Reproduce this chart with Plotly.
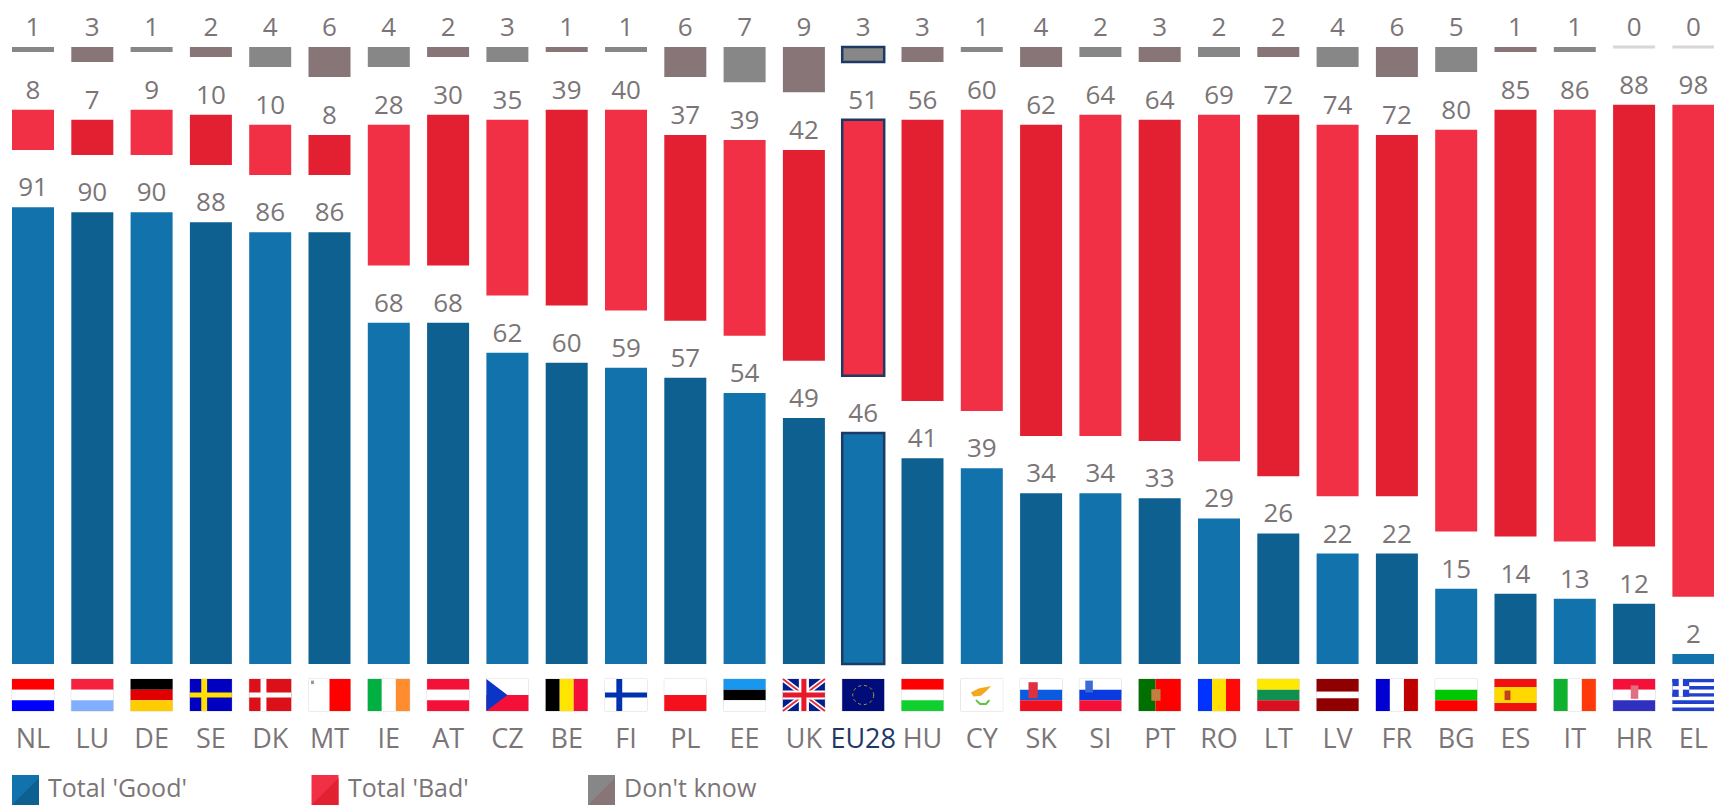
import plotly.graph_objects as go

countries = ["NL","LU","DE","SE","DK","MT","IE","AT","CZ","BE","FI","PL","EE","UK","EU28","HU","CY","SK","SI","PT","RO","LT","LV","FR","BG","ES","IT","HR","EL"]
good = [91,90,90,88,86,86,68,68,62,60,59,57,54,49,46,41,39,34,34,33,29,26,22,22,15,14,13,12,2]
bad = [8,7,9,10,10,8,28,30,35,39,40,37,39,42,51,56,60,62,64,64,69,72,74,72,80,85,86,88,98]
dont_know = [1,3,1,2,4,6,4,2,3,1,1,6,7,9,3,3,1,4,2,3,2,2,4,6,5,1,1,0,0]
legend_labels = ["Total 'Good'", "Total 'Bad'", "Don't know"]

W, H = 1714, 805
STEP = 59.3
X0 = 33
Y_ZERO = 664
UNIT = 5.02
BAR = 42 / STEP
GAP = 11.4
TOP = (Y_ZERO - 47) / UNIT
NAVY = "#1D3A66"
TXT = "#7B7577"
FONT = "Open Sans, Noto Sans, sans-serif"

n = len(countries)
EU = countries.index("EU28")
xs = list(range(n))

def alt(a, b):
    return [a if i % 2 == 0 else b for i in range(n)]

def outline(default, width0=0):
    cols = [default] * n
    widths = [width0] * n
    cols[EU] = NAVY
    widths[EU] = 2.5
    return cols, widths

fig = go.Figure()
lc, lw = outline("rgba(0,0,0,0)")
bar_common = dict(x=xs, width=BAR, textposition="outside", cliponaxis=False,
                  textfont=dict(family=FONT, size=26, color=TXT), constraintext="none",
                  hoverinfo="skip", showlegend=False)
fig.add_bar(y=good, base=0, text=[str(v) for v in good],
            marker=dict(color=alt("#1272AB", "#0D6090"), line=dict(color=lc, width=lw)), **bar_common)
fig.add_bar(y=bad, base=[g + GAP for g in good], text=[str(v) for v in bad],
            marker=dict(color=alt("#F23045", "#E31F32"), line=dict(color=lc, width=lw)), **bar_common)
glc, glw = outline("rgba(0,0,0,0)")
for i, v in enumerate(dont_know):
    if v == 0:
        glc[i], glw[i] = "#D8D6D6", 3
fig.add_bar(y=dont_know, base=[TOP - v for v in dont_know], text=[str(v) for v in dont_know],
            marker=dict(color=alt("#878787", "#877577"), line=dict(color=glc, width=glw)), **bar_common)

# ---- flags, drawn in unit squares (u from left, v from top) ----
def H3(a, b, c):
    return [(0, 0, 1, 1/3, a), (0, 1/3, 1, 2/3, b), (0, 2/3, 1, 1, c)]
def V3(a, b, c):
    return [(0, 0, 1/3, 1, a), (1/3, 0, 2/3, 1, b), (2/3, 0, 1, 1, c)]
def CROSS(bg, fg):
    return [(0, 0, 1, 1, bg), (0.27, 0, 0.41, 1, fg), (0, 0.42, 1, 0.58, fg)]

R = "#FF0000"; WH = "#FFFFFF"
flags = {
    "NL": H3(R, WH, "#0000FF"),
    "LU": H3("#F5213F", WH, "#82AEFF"),
    "DE": H3("#000000", "#E00000", "#FFCC00"),
    "SE": CROSS("#0000C0", "#FFE000"),
    "DK": CROSS("#DC1018", WH),
    "MT": [(0, 0, .5, 1, WH), (.5, 0, 1, 1, R), (.06, .05, .13, .16, "#999999")],
    "IE": V3("#00B040", WH, "#FF8C2E"),
    "AT": H3("#F5103A", WH, "#F5103A"),
    "CZ": [(0, 0, 1, .5, WH), (0, .5, 1, 1, "#F5103A")],
    "BE": V3("#000000", "#FFE500", "#F5103A"),
    "FI": CROSS(WH, "#0032B0"),
    "PL": [(0, 0, 1, .5, WH), (0, .5, 1, 1, "#F5101E")],
    "EE": H3("#1797F0", "#000000", WH),
    "UK": [(0, 0, 1, 1, "#001F8F")],
    "EU28": [(0, 0, 1, 1, "#000C7A")],
    "HU": H3(R, WH, "#10D030"),
    "CY": [(0, 0, 1, 1, WH)],
    "SK": H3(WH, "#0A5BE0", "#F01020") + [(.2, .1, .42, .6, "#E03040")],
    "SI": H3(WH, "#0A3BDF", "#F5103A") + [(.14, .05, .32, .42, "#3A6AD8")],
    "PT": [(0, 0, .4, 1, "#007000"), (.4, 0, 1, 1, R), (.3, .32, .52, .68, "#C08040")],
    "RO": V3("#0033FF", "#FFE000", "#FF0A0A"),
    "LT": H3("#FFE900", "#109050", "#D81020"),
    "LV": [(0, 0, 1, .4, "#900000"), (0, .4, 1, .6, WH), (0, .6, 1, 1, "#900000")],
    "FR": V3("#0000D0", WH, "#C00000"),
    "BG": H3(WH, "#00C800", R),
    "ES": [(0, 0, 1, .25, "#F01010"), (0, .25, 1, .75, "#FFD800"), (0, .75, 1, 1, "#F01010"), (.24, .36, .38, .66, "#C04020")],
    "IT": V3("#10B030", WH, "#FF3A0A"),
    "HR": H3("#F5103A", WH, "#3030C0") + [(.42, .2, .6, .62, "#E07080")],
    "EL": [(0, i / 9, 1, (i + 1) / 9, "#2040D0" if i % 2 == 0 else WH) for i in range(9)]
          + [(0, 0, .4, 5 / 9, "#2040D0"), (.15, 0, .25, 5 / 9, WH), (0, 2 / 9, .4, 3 / 9, WH)],
}

FLAG_TOP = 679
FLAG_H = 32
shapes = []

def fx(i, u):
    return i - BAR / 2 + u * BAR
def fy(v):
    return (Y_ZERO - (FLAG_TOP + v * FLAG_H)) / UNIT
def add_rect(i, u0, v0, u1, v1, color, line=None):
    shapes.append(dict(type="rect", xref="x", yref="y", x0=fx(i, u0), x1=fx(i, u1), y0=fy(v0), y1=fy(v1),
                       fillcolor=color, line=dict(width=1 if line else 0, color=line or color), layer="above"))
def add_path(i, pts, color=None, line=None, width=1):
    d = "M" + " L".join(f"{fx(i, u):.4f},{fy(v):.4f}" for u, v in pts)
    if color:
        d += " Z"
    shapes.append(dict(type="path", xref="x", yref="y", path=d, fillcolor=color or "rgba(0,0,0,0)",
                       line=dict(width=width, color=line or "rgba(0,0,0,0)"), layer="above"))

for i, c in enumerate(countries):
    add_rect(i, 0, 0, 1, 1, WH, "#DDD8D8")
    for u0, v0, u1, v1, col in flags[c]:
        add_rect(i, u0, v0, u1, v1, col)
    if c == "CZ":
        add_path(i, [(0, 0), (.5, .5), (0, 1)], "#0B35C4")
    if c == "UK":
        add_path(i, [(0, 0), (1, 1)], line=WH, width=5)
        add_path(i, [(1, 0), (0, 1)], line=WH, width=5)
        add_path(i, [(0, 0), (1, 1)], line="#E03040", width=2)
        add_path(i, [(1, 0), (0, 1)], line="#E03040", width=2)
        add_rect(i, .38, 0, .62, 1, WH)
        add_rect(i, 0, .36, 1, .64, WH)
        add_rect(i, .44, 0, .56, 1, "#E8182C")
        add_rect(i, 0, .42, 1, .58, "#E8182C")
    if c == "EU28":
        shapes.append(dict(type="circle", xref="x", yref="y", x0=fx(i, .25), x1=fx(i, .75), y0=fy(.2), y1=fy(.8),
                           fillcolor="rgba(0,0,0,0)", line=dict(width=1, color="#B0A020", dash="dot"), layer="above"))
    if c == "CY":
        add_path(i, [(.24, .42), (.42, .3), (.72, .22), (.62, .36), (.48, .52), (.3, .55)], "#F5A81E")
        add_path(i, [(.36, .66), (.46, .78), (.6, .78), (.68, .66)], line="#60C040", width=2)

fig.update_layout(shapes=shapes)

# ---- legend, drawn by hand so it can sit clipped at the page bottom ----
swatches = [(12, "#1272AB", "#0D6090", 46), (311.5, "#F23045", "#E31F32", 346), (588, "#878787", "#877577", 622)]
LY0, LY1 = 775, 805
for (sx, light, dark, tx), label in zip(swatches, legend_labels):
    px = lambda a: a / W
    py = lambda b: 1 - b / H
    shapes_l = [
        dict(type="rect", xref="paper", yref="paper", x0=px(sx), x1=px(sx + 27), y0=py(LY1), y1=py(LY0),
             fillcolor=light, line=dict(width=0)),
        dict(type="path", xref="paper", yref="paper",
             path=f"M{px(sx+27):.5f},{py(LY0+3):.5f} L{px(sx+27):.5f},{py(LY1):.5f} L{px(sx):.5f},{py(LY1):.5f} Z",
             fillcolor=dark, line=dict(width=0)),
    ]
    for s in shapes_l:
        fig.add_shape(**s)
    fig.add_annotation(xref="paper", yref="paper", x=px(tx), y=py(787), text=label, showarrow=False,
                       xanchor="left", yanchor="middle", font=dict(family=FONT, size=25, color=TXT))

ticktext = [f'<span style="color:{NAVY}">{c}</span>' if c == "EU28" else c for c in countries]

fig.update_layout(
    width=W, height=H, margin=dict(l=0, r=0, t=0, b=0), autosize=False,
    barmode="overlay", plot_bgcolor="white", paper_bgcolor="white", showlegend=False,
    xaxis=dict(range=[-X0 / STEP, (W - X0) / STEP], tickmode="array", tickvals=xs, ticktext=ticktext,
               anchor="free", position=(H - Y_ZERO) / H, showgrid=False, zeroline=False, showline=False,
               ticks="outside", ticklen=51, tickcolor="rgba(0,0,0,0)", tickangle=0,
               tickfont=dict(family=FONT, size=27, color=TXT)),
    yaxis=dict(range=[-(H - Y_ZERO) / UNIT, Y_ZERO / UNIT], visible=False),
)

fig.write_html("out.html", config={"displayModeBar": False},
               post_script="document.body.style.margin='0';document.body.style.overflow='hidden';")
